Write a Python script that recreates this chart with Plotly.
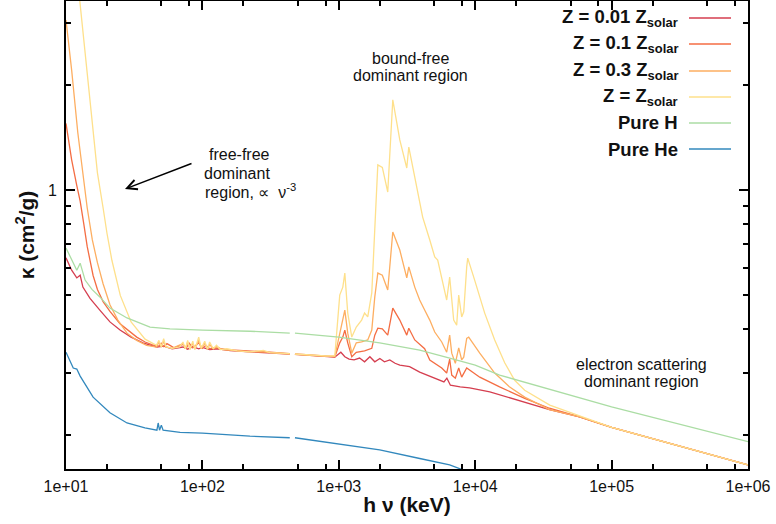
import plotly.graph_objects as go

# ---------------- data (h nu in keV, kappa in cm^2/g) ----------------
E_red = [10, 11, 12, 12.7, 13.3, 15, 17.7, 21, 24.9, 30, 36.6, 46.4, 52, 60, 72, 78, 85, 94, 100, 113, 130, 160,
         223, 313, 437, 455, 477, 600, 800, 935, 1035, 1107, 1190, 1295, 1420, 1545, 1690, 1836, 2000, 2160, 2365,
         2585, 2800, 3305, 3917, 4700, 5900, 6200, 6580, 7760, 9100, 12800, 23060, 35000, 58300, 1e5, 1e6]
K_red = [0.64, 0.59, 0.561, 0.571, 0.528, 0.49, 0.454, 0.42, 0.398, 0.38, 0.366, 0.356, 0.358, 0.352, 0.356, 0.351,
         0.357, 0.352, 0.355, 0.350, 0.352, 0.348, 0.345, 0.343, 0.340, None, 0.339, 0.337, 0.334, 0.333, 0.344,
         0.334, 0.329, 0.327, 0.331, 0.323, 0.334, 0.323, 0.330, 0.323, 0.327, 0.320, 0.316, 0.313, 0.302, 0.294,
         0.283, 0.290, 0.277, 0.274, 0.272, 0.265, 0.248, 0.236, 0.225, 0.210, 0.164]

E_01 = [10, 11, 12, 12.7, 13.5, 14.3, 15.8, 17, 18.7, 21, 24.9, 29, 33, 38, 43, 48, 50, 52, 55, 62, 72, 76, 80, 85,
        90, 94, 100, 106, 113, 125, 150, 223, 313, 437, 455, 477, 600, 800, 935, 1016, 1070, 1107, 1163, 1245, 1343,
        1545, 1745, 1836, 1932, 2085, 2285, 2488, 2800, 3150, 3260, 3605, 4260, 4645, 5685, 6180, 6500, 6730, 7150,
        7570, 7960, 8665, 9100, 10800, 15100, 23060, 35000, 58300, 1e5, 1e6]
K_01 = [1.55, 1.22, 1.03, 0.93, 0.80, 0.69, 0.57, 0.52, 0.48, 0.45, 0.415, 0.395, 0.38, 0.368, 0.361, 0.358, 0.365,
        0.357, 0.364, 0.354, 0.362, 0.353, 0.365, 0.354, 0.362, 0.366, 0.353, 0.360, 0.352, 0.354, 0.350, 0.346,
        0.344, 0.341, None, 0.340, 0.338, 0.335, 0.334, 0.366, 0.380, 0.398, 0.366, 0.334, 0.344, 0.347, 0.353,
        0.385, 0.403, 0.401, 0.385, 0.460, 0.425, 0.385, 0.403, 0.373, 0.352, 0.327, 0.310, 0.300, 0.329, 0.296,
        0.290, 0.310, 0.292, 0.310, 0.306, 0.292, 0.274, 0.254, 0.238, 0.225, 0.210, 0.164]

E_03 = [10, 11, 12.2, 13.2, 14.3, 15.6, 17, 18.7, 21, 24, 28, 33, 39, 46, 48, 50, 52, 54, 60, 72, 75, 78, 81, 85, 88,
        94, 98, 104, 109, 113, 120, 127, 140, 180, 223, 280, 313, 437, 455, 477, 600, 800, 935, 1016, 1070, 1107,
        1163, 1245, 1343, 1470, 1630, 1745, 1836, 1932, 2085, 2285, 2488, 2800, 3150, 3260, 3605, 3917, 4260, 4645,
        5050, 5685, 6180, 6500, 6730, 7150, 7570, 7960, 8240, 8665, 8960, 10800, 13900, 17800, 23060, 35000, 58300,
        1e5, 1e6]
K_03 = [3.06, 2.2, 1.46, 1.12, 0.89, 0.72, 0.62, 0.54, 0.47, 0.425, 0.39, 0.372, 0.36, 0.356, 0.368, 0.356, 0.370,
        0.356, 0.353, 0.364, 0.352, 0.368, 0.351, 0.365, 0.351, 0.372, 0.352, 0.365, 0.351, 0.362, 0.352, 0.357,
        0.350, 0.347, 0.345, 0.345, 0.343, 0.340, None, 0.339, 0.337, 0.335, 0.335, 0.39, 0.425, 0.454, 0.39,
        0.342, 0.366, 0.368, 0.373, 0.398, 0.495, 0.579, 0.571, 0.518, 0.759, 0.674, 0.561, 0.603, 0.528, 0.485,
        0.454, 0.425, 0.393, 0.368, 0.344, 0.385, 0.342, 0.320, 0.354, 0.327, 0.333, 0.377, 0.380, 0.342, 0.300,
        0.274, 0.256, 0.236, 0.225, 0.210, 0.164]

E_sol = [12.5, 14, 15.8, 17, 18.7, 20, 21.7, 25, 30, 38, 46, 48, 50, 52, 54, 60, 68, 72, 75, 78, 81, 85, 88, 94, 98,
         104, 109, 113, 120, 127, 135, 151, 180, 223, 260, 280, 313, 437, 455, 477, 600, 800, 935, 1016, 1070, 1107,
         1163, 1245, 1343, 1470, 1545, 1630, 1745, 1836, 1932, 2085, 2285, 2488, 2800, 3150, 3260, 3605, 3917, 4120,
         4645, 5050, 5310, 5685, 6180, 6500, 6730, 6955, 7315, 7570, 7960, 8240, 8665, 8815, 9910, 11740, 13900,
         16450, 19470, 23060, 35200, 58300, 1e5, 1e6]
K_sol = [3.6, 2.3, 1.45, 1.12, 0.89, 0.75, 0.63, 0.50, 0.42, 0.375, 0.36, 0.372, 0.356, 0.376, 0.357, 0.353, 0.356,
         0.368, 0.352, 0.372, 0.350, 0.370, 0.351, 0.380, 0.353, 0.370, 0.351, 0.368, 0.352, 0.360, 0.350, 0.352,
         0.347, 0.345, 0.347, 0.348, 0.343, 0.341, None, 0.340, 0.338, 0.336, 0.336, 0.501, 0.528, 0.579, 0.445,
         0.380, 0.406, 0.425, 0.445, 0.434, 0.508, 0.805, 1.18, 1.16, 0.987, 1.81, 1.39, 1.156, 1.327, 1.089, 0.918,
         0.837, 0.720, 0.644, 0.631, 0.564, 0.485, 0.564, 0.485, 0.425, 0.411, 0.501, 0.434, 0.449, 0.603, 0.639,
         0.553, 0.445, 0.373, 0.321, 0.286, 0.268, 0.243, 0.226, 0.210, 0.164]

E_H = [10, 12, 12.7, 13.8, 15.5, 17.7, 21, 28, 41.3, 57.8, 100, 223, 437, 455, 477, 1000, 1995, 3920, 6500, 10000,
       15100, 1e5, 1e6]
K_H = [0.683, 0.590, 0.618, 0.553, 0.52, 0.495, 0.460, 0.431, 0.406, 0.401, 0.398, 0.395, 0.390, None, 0.390, 0.380,
       0.366, 0.349, 0.331, 0.316, 0.296, 0.240, 0.191]

E_He = [10, 11.3, 12, 12.7, 15.8, 21, 28, 37.9, 46.4, 47.4, 48.5, 50, 51.5, 68.6, 100, 223, 437, 455, 477, 1000,
        1995, 3920, 6500, 9100, 10000]
K_He = [0.344, 0.310, 0.308, 0.294, 0.256, 0.231, 0.216, 0.209, 0.206, 0.216, 0.206, 0.213, 0.206, 0.203, 0.202,
        0.198, 0.196, None, 0.196, 0.188, 0.181, 0.171, 0.164, 0.156, 0.153]

series_names = ["<b>Z = 0.01 Z<sub>solar</sub></b>", "<b>Z = 0.1 Z<sub>solar</sub></b>",
                "<b>Z = 0.3 Z<sub>solar</sub></b>", "<b>Z = Z<sub>solar</sub></b>",
                "<b>Pure H</b>", "<b>Pure He</b>"]
series_colors = ["#d53e4f", "#f46d43", "#fdae61", "#fee08b", "#abdda4", "#3288bd"]

x_tickvals = [1e1, 1e2, 1e3, 1e4, 1e5, 1e6]
x_ticktext = ["1e+01", "1e+02", "1e+03", "1e+04", "1e+05", "1e+06"]
x_minor = [m * 10 ** d for d in range(1, 6) for m in (2, 5, 8)]
y_tickvals = [1]
y_ticktext = ["1"]
y_minor = [0.2, 0.3, 0.4, 0.5, 0.6, 0.7, 0.8, 0.9, 2, 3]

# ---------------- figure ----------------
FONT = "Liberation Sans, Arial, sans-serif"
W, H = 776, 524
ML, MR, MT, MB = 66, 28, 1, 55
PW, PH = W - ML - MR, H - MT - MB


def px(x):
    return (x - ML) / PW


def py(y):
    return 1 - (y - MT) / PH


fig = go.Figure()
all_data = [(E_red, K_red), (E_01, K_01), (E_03, K_03), (E_sol, K_sol), (E_H, K_H), (E_He, K_He)]
for (E, K), name, col in zip(all_data, series_names, series_colors):
    fig.add_trace(go.Scatter(x=E, y=K, mode="lines", name=name, showlegend=False,
                             line=dict(color=col, width=1.3)))

axis_common = dict(showline=True, linecolor="black", linewidth=2, mirror="ticks", ticks="inside",
                   tickcolor="black", tickwidth=1.5, ticklen=9, showgrid=False, zeroline=False,
                   tickfont=dict(family=FONT, size=16, color="#111"))

fig.update_xaxes(type="log", range=[1, 6], tickmode="array", tickvals=x_tickvals, ticktext=x_ticktext,
                 minor=dict(tickmode="array", tickvals=x_minor, ticks="inside", ticklen=5, tickwidth=1.5,
                            tickcolor="black"),
                 title=dict(text="<b>h ν (keV)</b>", font=dict(family=FONT, size=21, color="#111"), standoff=3),
                 ticklabelstandoff=2, automargin=False, **axis_common)
fig.update_yaxes(type="log", range=[-0.797, 0.54], tickmode="array", tickvals=y_tickvals, ticktext=y_ticktext,
                 minor=dict(tickmode="array", tickvals=y_minor, ticks="inside", ticklen=5, tickwidth=1.5,
                            tickcolor="black"),
                 title=dict(text="<b>κ (cm<sup>2</sup>/g)</b>", font=dict(family=FONT, size=21, color="#111"),
                            standoff=8),
                 ticklabelstandoff=4, automargin=False, **axis_common)

# legend drawn gnuplot-style: text right-aligned, sample line to its right
leg_rows = [18, 44, 71, 97, 123, 149]
for yy, name, col in zip(leg_rows, series_names, series_colors):
    fig.add_annotation(xref="paper", yref="paper", x=px(680), y=py(yy), text=name, showarrow=False,
                       xanchor="right", yanchor="middle", font=dict(family=FONT, size=18.5, color="#111"))
    fig.add_shape(type="line", xref="paper", yref="paper", x0=px(689), x1=px(731), y0=py(yy), y1=py(yy),
                  line=dict(color=col, width=1.5))

# text labels
labels = [
    ("free-free", 207, 155, "left"),
    ("dominant", 202, 173, "left"),
    ("region, ∝  ν<sup>-3</sup>", 203, 191, "left"),
    ("bound-free", 410, 58, "center"),
    ("dominant region", 410, 75, "center"),
    ("electron scattering", 641, 364, "center"),
    ("dominant region", 641, 381, "center"),
]
for t, xx, yy, anc in labels:
    fig.add_annotation(xref="paper", yref="paper", x=px(xx), y=py(yy), text=t, showarrow=False,
                       xanchor=anc, yanchor="middle", font=dict(family=FONT, size=16, color="#111"))

# arrow
fig.add_annotation(xref="paper", yref="paper", x=px(125), y=py(189), ax=68, ay=-26, text="",
                   showarrow=True, arrowhead=5, arrowsize=1.3, arrowwidth=1.5, arrowcolor="black")

fig.update_layout(width=W, height=H, margin=dict(l=ML, r=MR, t=MT, b=MB),
                  plot_bgcolor="white", paper_bgcolor="white", showlegend=False)

fig.write_html("out.html", config={"displayModeBar": False},
               post_script="document.body.style.margin='0';document.body.style.overflow='hidden';")
